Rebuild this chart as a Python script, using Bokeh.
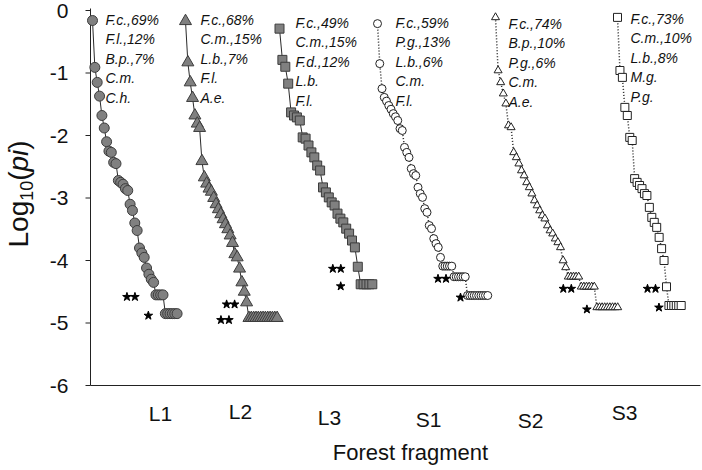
import math
from bokeh.plotting import figure
from bokeh.core.properties import value
from bokeh.embed import file_html
from bokeh.resources import INLINE

# ---------------- data ----------------
fragments = ["L1", "L2", "L3", "S1", "S2", "S3"]

# log10(pi) of every species, in rank order
L1 = [-0.16, -0.91, -1.15, -1.37, -1.68, -1.88, -2.10, -2.25, -2.27, -2.43, -2.45,
      -2.72, -2.75, -2.78, -2.85, -2.88, -3.10, -3.20, -3.40, -3.52, -3.80, -3.88,
      -3.95, -4.12, -4.22, -4.30, -4.35, -4.55, -4.55, -4.55, -4.55,
      -4.85, -4.85, -4.85, -4.85, -4.85, -4.85]
L2 = [-0.17, -0.83, -1.15, -1.40, -1.68, -1.81, -1.88, -2.41, -2.67, -2.77, -2.85,
      -2.90, -3.00, -3.10, -3.18, -3.26, -3.34, -3.42, -3.50, -3.60, -3.72, -3.90,
      -3.95, -4.13, -4.35, -4.50, -4.67,
      -4.92, -4.92, -4.92, -4.92, -4.92, -4.92, -4.92, -4.92, -4.92, -4.92, -4.92,
      -4.92, -4.92]
L3 = [-0.29, -0.79, -0.90, -1.17, -1.63, -1.68, -1.71, -1.76, -2.03, -2.05, -2.16,
      -2.27, -2.35, -2.48, -2.56, -2.83, -2.91, -2.99, -3.07, -3.12, -3.25, -3.33,
      -3.39, -3.49, -3.57, -3.68, -3.79, -4.10,
      -4.38, -4.38, -4.38, -4.38, -4.38]
S1 = [-0.21, -0.85, -1.25, -1.39, -1.45, -1.52, -1.58, -1.65, -1.70, -1.76, -1.89,
      -1.92, -2.19, -2.27, -2.35, -2.53, -2.61, -2.64, -2.83, -2.93, -2.99, -3.17,
      -3.23, -3.44, -3.49, -3.65, -3.73, -3.79, -3.95,
      -4.09, -4.09, -4.09, -4.09, -4.09,
      -4.26, -4.26, -4.26, -4.26, -4.26, -4.26,
      -4.56, -4.56, -4.56, -4.56, -4.56, -4.56, -4.56, -4.56, -4.56, -4.56]
S2 = [-0.11, -0.96, -1.15, -1.33, -1.49, -1.84, -1.87, -2.27, -2.35, -2.45, -2.56,
      -2.64, -2.75, -2.83, -2.93, -3.04, -3.12, -3.20, -3.28, -3.33, -3.44, -3.52,
      -3.57, -3.65, -3.71, -3.79, -4.00, -4.11,
      -4.26, -4.26, -4.26, -4.26, -4.26,
      -4.42, -4.42, -4.42, -4.42, -4.42, -4.42,
      -4.75, -4.75, -4.75, -4.75, -4.75, -4.75, -4.75, -4.75, -4.75]
S3 = [-0.11, -0.96, -1.07, -1.55, -1.68, -2.03, -2.08, -2.69, -2.75, -2.80, -2.85,
      -2.93, -2.96, -3.15, -3.31, -3.39, -3.47, -3.63, -3.81, -4.00, -4.42,
      -4.72, -4.72, -4.72, -4.72, -4.72, -4.72]

top_species = {
    "L1": ["F.c.,69%", "F.l.,12%", "B.p.,7%", "C.m.", "C.h."],
    "L2": ["F.c.,68%", "C.m.,15%", "L.b.,7%", "F.l.", "A.e."],
    "L3": ["F.c.,49%", "C.m.,15%", "F.d.,12%", "L.b.", "F.l."],
    "S1": ["F.c.,59%", "P.g.,13%", "L.b.,6%", "C.m.", "F.l."],
    "S2": ["F.c.,74%", "B.p.,10%", "P.g.,6%", "C.m.", "A.e."],
    "S3": ["F.c.,73%", "C.m.,10%", "L.b.,8%", "M.g.", "P.g."],
}

# significance stars: (rank index of the point they mark, number of stars)
stars = {
    "L1": [(27, 2), (31, 1)],
    "L2": [(26, 2), (27, 2)],
    "L3": [(27, 2), (28, 1)],
    "S1": [(34, 2), (40, 1)],
    "S2": [(33, 2), (39, 1)],
    "S3": [(20, 2), (21, 1)],
}

yticks = [0, -1, -2, -3, -4, -5, -6]
ytick_labels = ["0", "-1", "-2", "-3", "-4", "-5", "-6"]
x_title = "Forest fragment"

series_values = {"L1": L1, "L2": L2, "L3": L3, "S1": S1, "S2": S2, "S3": S3}

# ---------------- layout / style ----------------
FONT = value("Liberation Sans")
GREY = "#808080"
EDGE = "#3c3c3c"
INK = "#111111"

W, H = 702, 470
AX_X = 90          # pixel column of the y axis
Y0_PX = 10         # pixel row of log10(pi) = 0
PPU = 62.5         # pixels per log10 unit


def py(pix):       # pixel row -> y data
    return -(pix - Y0_PX) / PPU


# x placement of each series (start, step between ranks); 1 x unit = 1 px
placement = {
    "L1": (2, 2.35), "L2": (95, 2.35), "L3": (189, 2.9),
    "S1": (287, 2.25), "S2": (405, 2.6), "S3": (527, 2.45),
}
style = {
    "L1": dict(marker="circle", size=10, fill=GREY, line=EDGE, dash="solid", lw=1.0, lc="#2a2a2a"),
    "L2": dict(marker="triangle", size=12, fill=GREY, line=EDGE, dash="solid", lw=1.0, lc="#2a2a2a"),
    "L3": dict(marker="square", size=9, fill=GREY, line=EDGE, dash="solid", lw=1.0, lc="#2a2a2a"),
    "S1": dict(marker="circle", size=8, fill="white", line="#222222", dash="1 2", lw=1.5, lc="#222222"),
    "S2": dict(marker="triangle", size=8, fill="white", line="#222222", dash="1 2", lw=1.5, lc="#222222"),
    "S3": dict(marker="square", size=8, fill="white", line="#222222", dash="1 2", lw=1.5, lc="#222222"),
}
text_dx = {"L1": 13, "L2": 15, "L3": 16, "S1": 18, "S2": 13, "S3": 13}
text_row0 = {"L1": 19, "L2": 19, "L3": 22, "S1": 22, "S2": 23, "S3": 18}
star_gap = {"L1": [21, 17], "L2": [12, 20], "L3": [17, 20], "S1": [8, 7], "S2": [10, 10], "S3": [11, 10]}
cat_px = {"L1": 160, "L2": 240, "L3": 329, "S1": 428, "S2": 530, "S3": 624}
cat_py = {"L1": 413, "L2": 411, "L3": 417, "S1": 419, "S2": 420, "S3": 412}

p = figure(width=W, height=H, x_range=(-AX_X, W - AX_X), y_range=(py(H), py(0)),
           output_backend="svg", toolbar_location=None,
           min_border_left=0, min_border_right=0, min_border_top=0, min_border_bottom=0)
p.xaxis.visible = False
p.yaxis.visible = False
p.xgrid.visible = False
p.ygrid.visible = False
p.outline_line_color = None
p.background_fill_color = "white"
p.border_fill_color = "white"

# axes drawn by hand
x_end = 700 - AX_X
p.segment(x0=[0, 0], y0=[yticks[-1], yticks[-1]], x1=[0, x_end], y1=[py(8), yticks[-1]],
          line_color="#222222", line_width=1)
p.segment(x0=[-5] * len(yticks), y0=yticks, x1=[0] * len(yticks), y1=yticks,
          line_color="#222222", line_width=1)
p.text(x=[-22] * len(yticks), y=yticks, text=ytick_labels, text_font=FONT,
       text_font_size="21px", text_color=INK, text_align="right", text_baseline="middle")

star_x, star_y = [], []
for name in fragments:
    vals = series_values[name]
    x0, step = placement[name]
    xs = [x0 + i * step for i in range(len(vals))]
    st = style[name]
    p.line(xs, vals, line_color=st["lc"], line_width=st["lw"], line_dash=st["dash"])
    p.scatter(xs, vals, marker=st["marker"], size=st["size"], fill_color=st["fill"],
              line_color=st["line"], line_width=1)
    labels = top_species[name]
    p.text(x=[xs[0] + text_dx[name]] * len(labels),
           y=[py(text_row0[name] + 19.5 * k) for k in range(len(labels))],
           text=labels, text_font=FONT, text_font_style="italic", text_font_size="14px",
           text_color=INK, text_align="left", text_baseline="middle")
    for (idx, n), gap in zip(stars[name], star_gap[name]):
        for j in range(n):
            star_x.append(xs[idx] - gap - j * 8)
            star_y.append(vals[idx] - 2 / PPU)

p.scatter(star_x, star_y, marker="star", size=9, fill_color="black", line_color="black")

p.text(x=[cat_px[n] - AX_X for n in fragments], y=[py(cat_py[n]) for n in fragments],
       text=fragments, text_font=FONT, text_font_size="21px", text_color=INK,
       text_align="center", text_baseline="middle")
p.text(x=[410 - AX_X], y=[py(452)], text=[x_title], text_font=FONT, text_font_size="22px",
       text_color=INK, text_align="center", text_baseline="middle")

# y-axis title: Log10(pi) with subscript and italic pi, rotated
cw = {"L": .556, "o": .556, "g": .556, "1": .556, "0": .556, "(": .333, ")": .333,
      "p": .556, "i": .222}
pieces = [("Log", 28, "normal", 17.5), ("10", 18, "normal", 25.5), ("(", 28, "normal", 17.5),
          ("pi", 28, "italic", 17.5), (")", 28, "normal", 17.5)]
pos = 247.0
for txt, fs, fst, xp in pieces:
    p.text(x=[xp - AX_X], y=[py(pos)], text=[txt], angle=math.pi / 2,
           text_font=FONT, text_font_size=f"{fs}px", text_font_style=fst,
           text_color=INK, text_align="left", text_baseline="middle")
    pos -= sum(cw[c] for c in txt) * fs

open("out.html", "w").write(file_html(p, INLINE))
